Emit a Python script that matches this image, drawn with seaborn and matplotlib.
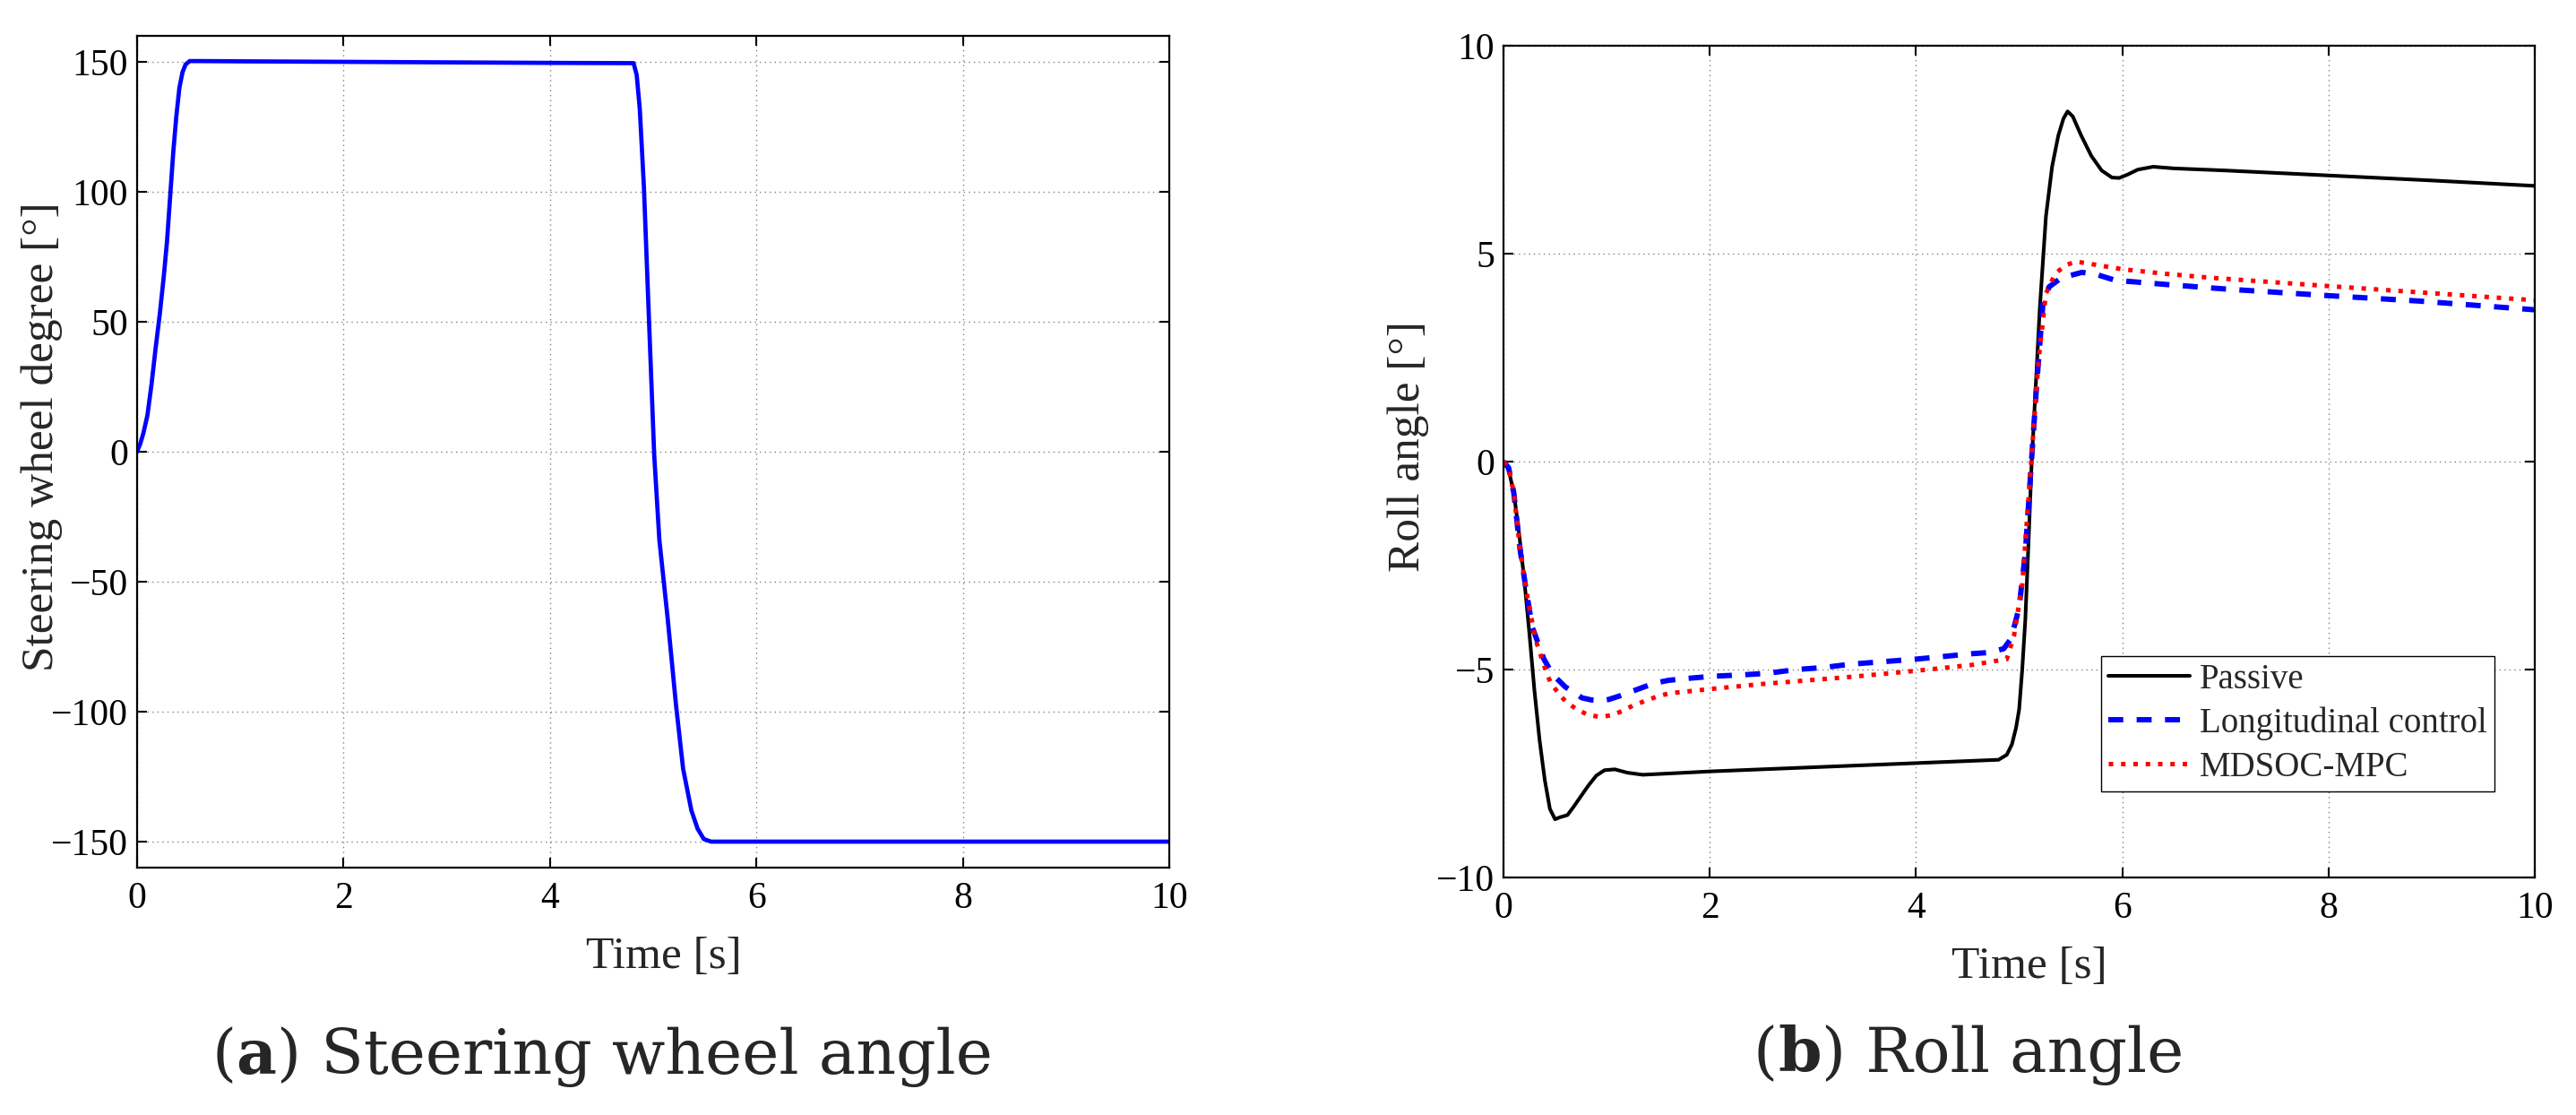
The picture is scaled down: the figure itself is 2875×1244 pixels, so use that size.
import numpy as np
import pandas as pd
import matplotlib
matplotlib.use("Agg")
import matplotlib.pyplot as plt
import seaborn as sns

# ---------------- data ----------------
sw_time = [0, 0.03, 0.06, 0.10, 0.14, 0.18, 0.22, 0.26, 0.29, 0.32, 0.35, 0.38, 0.41,
           0.44, 0.47, 0.51, 0.6, 1.0, 2.0, 3.0, 4.0, 4.81, 4.84, 4.87, 4.91, 4.96,
           5.01, 5.06, 5.14, 5.22, 5.29, 5.37, 5.43, 5.49, 5.56, 6.0, 8.0, 10.0]
sw_angle = [0, 3, 7, 14, 26, 40, 53, 68, 81, 98, 115, 129, 140,
            146, 149, 150.3, 150.3, 150.2, 150.0, 149.8, 149.6, 149.5, 145, 132, 102, 50,
            -1.4, -34, -64, -97, -122, -138, -145, -149, -150, -150, -150, -150]

passive_t = [0, 0.05, 0.10, 0.15, 0.20, 0.25, 0.30, 0.35, 0.40, 0.45, 0.50, 0.55, 0.62,
             0.68, 0.75, 0.82, 0.90, 0.98, 1.08, 1.20, 1.35, 1.60, 2.0, 3.0, 4.0, 4.5,
             4.80, 4.88, 4.93, 4.97, 5.00, 5.03, 5.06, 5.09, 5.12, 5.15, 5.20, 5.26,
             5.32, 5.38, 5.43, 5.47, 5.52, 5.60, 5.70, 5.80, 5.90, 5.97, 6.05, 6.15,
             6.30, 6.50, 7.0, 8.0, 9.0, 10.0]
passive_v = [0, -0.2, -0.75, -1.7, -2.8, -4.1, -5.5, -6.7, -7.65, -8.35, -8.6, -8.55, -8.5,
             -8.3, -8.05, -7.8, -7.55, -7.42, -7.4, -7.48, -7.53, -7.5, -7.45, -7.35, -7.25, -7.2,
             -7.17, -7.05, -6.8, -6.4, -5.96, -5.0, -3.8, -2.0, -0.1, 1.3, 3.67, 5.9,
             7.1, 7.84, 8.25, 8.42, 8.3, 7.85, 7.35, 7.0, 6.83, 6.82, 6.9, 7.02,
             7.09, 7.05, 7.0, 6.88, 6.76, 6.63]

longi_t = [0, 0.05, 0.10, 0.16, 0.22, 0.28, 0.365, 0.39, 0.45, 0.51, 0.60, 0.71, 0.76,
           0.85, 0.95, 1.02, 1.12, 1.23, 1.35, 1.46, 1.60, 1.75, 2.04, 2.30, 2.56, 2.84,
           3.11, 3.37, 4.0, 4.54, 4.71, 4.85, 4.91, 4.96, 5.00, 5.06, 5.12, 5.17, 5.23,
           5.29, 5.41, 5.61, 5.75, 5.93, 6.42, 7.0, 8.0, 8.88, 10.0]
longi_v = [0, -0.15, -0.75, -2.1, -3.1, -3.99, -4.56, -4.74, -5.0, -5.2, -5.42, -5.59, -5.68,
           -5.73, -5.75, -5.72, -5.64, -5.54, -5.43, -5.33, -5.26, -5.22, -5.16, -5.13, -5.09, -5.0,
           -4.95, -4.87, -4.75, -4.62, -4.59, -4.5, -4.3, -3.9, -3.5, -2.2, 0.03, 1.85, 3.78,
           4.2, 4.42, 4.55, 4.5, 4.36, 4.26, 4.15, 3.99, 3.86, 3.65]

mpc_t = [0, 0.05, 0.10, 0.16, 0.22, 0.31, 0.38, 0.42, 0.46, 0.53, 0.60, 0.71, 0.83,
         0.95, 1.06, 1.16, 1.26, 1.38, 1.50, 1.61, 1.73, 2.0, 2.5, 3.0, 3.4, 4.0, 4.54,
         4.88, 4.95, 5.03, 5.10, 5.19, 5.26, 5.35, 5.45, 5.55, 5.70, 5.99, 6.40, 6.86,
         8.0, 8.88, 10.0]
mpc_v = [0, -0.15, -0.75, -2.1, -3.1, -4.27, -4.8, -5.1, -5.33, -5.56, -5.76, -5.96, -6.1,
         -6.14, -6.09, -5.99, -5.86, -5.75, -5.64, -5.57, -5.54, -5.47, -5.35, -5.25, -5.17, -5.03, -4.89,
         -4.75, -4.19, -2.96, -0.6, 2.49, 4.04, 4.52, 4.72, 4.81, 4.75, 4.63, 4.52, 4.42,
         4.22, 4.07, 3.88]

series_names = ["Passive", "Longitudinal control", "MDSOC-MPC"]
x_ticks = [0, 2, 4, 6, 8, 10]
sw_ticks = [-150, -100, -50, 0, 50, 100, 150]
roll_ticks = [-10, -5, 0, 5, 10]

# ---------------- style ----------------
sns.set_style("ticks")
plt.rcParams['font.family'] = ['Liberation Serif', 'DejaVu Serif']
plt.rcParams['axes.unicode_minus'] = True

W, H, DPI = 2875, 1244, 100
fig = plt.figure(figsize=(W / DPI, H / DPI), dpi=DPI)
fig.patch.set_facecolor('white')

ax1 = fig.add_axes([153 / W, 1 - 968 / H, 1152 / W, 928 / H])
ax2 = fig.add_axes([1678 / W, 1 - 979 / H, 1151 / W, 928 / H])

df_sw = pd.DataFrame({"t": sw_time, "v": sw_angle})
sns.lineplot(data=df_sw, x="t", y="v", ax=ax1, color=(0, 0, 1), lw=3.4, legend=False)

df_p = pd.DataFrame({"t": passive_t, "v": passive_v})
df_l = pd.DataFrame({"t": longi_t, "v": longi_v})
df_m = pd.DataFrame({"t": mpc_t, "v": mpc_v})
sns.lineplot(data=df_p, x="t", y="v", ax=ax2, color="black", lw=2.9, legend=False)
sns.lineplot(data=df_l, x="t", y="v", ax=ax2, color=(0, 0, 1), lw=4.3, legend=False)
sns.lineplot(data=df_m, x="t", y="v", ax=ax2, color=(1, 0, 0), lw=3.6, legend=False)
lines = ax2.get_lines()
lines[1].set_linestyle((0, (2.8, 2.5)))
lines[1].set_dash_capstyle('butt')
lines[2].set_linestyle((0, (1.0, 1.75)))
lines[2].set_dash_capstyle('butt')

for ax, yt, ylim, ylab in [(ax1, sw_ticks, (-160, 160), "Steering wheel degree [°]"),
                           (ax2, roll_ticks, (-10, 10), "Roll angle [°]")]:
    ax.set_xlim(0, 10)
    ax.set_ylim(*ylim)
    ax.set_xticks(x_ticks)
    ax.set_yticks(yt)
    ax.set_xticklabels([str(v) for v in x_ticks])
    ax.set_yticklabels([str(v).replace('-', '\u2212') for v in yt])
    ax.grid(True, linestyle=(0, (1, 3)), color='#808080', linewidth=1.0)
    ax.set_axisbelow(True)
    for s in ax.spines.values():
        s.set_visible(True)
        s.set_linewidth(1.6)
        s.set_color('black')
    ax.tick_params(direction='in', length=8, width=1.5, top=True, right=True,
                   labelsize=30, colors='black')
    ax.tick_params(axis='x', pad=11)
    ax.tick_params(axis='y', pad=7)
    ax.set_xlabel("Time [s]", fontsize=37)
    ax.set_ylabel(ylab, fontsize=37)
    ax.xaxis.set_label_coords(0.51, -0.082)
    ax.yaxis.set_label_coords(-0.072, 0.518)
    ax.set_facecolor('white')

leg = ax2.legend(handles=lines, labels=series_names, loc='upper left',
                 bbox_to_anchor=(0.5795, 0.266), borderaxespad=0,
                 fontsize=28, frameon=True, fancybox=False, shadow=False,
                 handlelength=2.35, handletextpad=0.28, borderpad=0.2,
                 labelspacing=0.3)
leg.get_frame().set_edgecolor('black')
leg.get_frame().set_linewidth(1.0)
leg.get_frame().set_facecolor('white')
leg.get_frame().set_alpha(1.0)


# ---------------- captions ----------------
def caption(cx_px, base_px, letter, rest, size=50):
    fam = ['DejaVu Serif']
    y = 1 - base_px / H
    parts = [("(", 'normal'), (letter, 'bold'), (") " + rest, 'normal')]
    texts = [fig.text(0, y, s, fontsize=size, family=fam, weight=w,
                      ha='left', va='baseline') for s, w in parts]
    r = fig.canvas.get_renderer()
    widths = [t.get_window_extent(r).width for t in texts]
    x = cx_px - sum(widths) / 2
    for t, w in zip(texts, widths):
        t.set_x(x / W)
        x += w


caption(672, 1198, "a", "Steering wheel angle")
caption(2197, 1196, "b", "Roll angle")

fig.savefig("out.png", dpi=DPI, facecolor='white')
